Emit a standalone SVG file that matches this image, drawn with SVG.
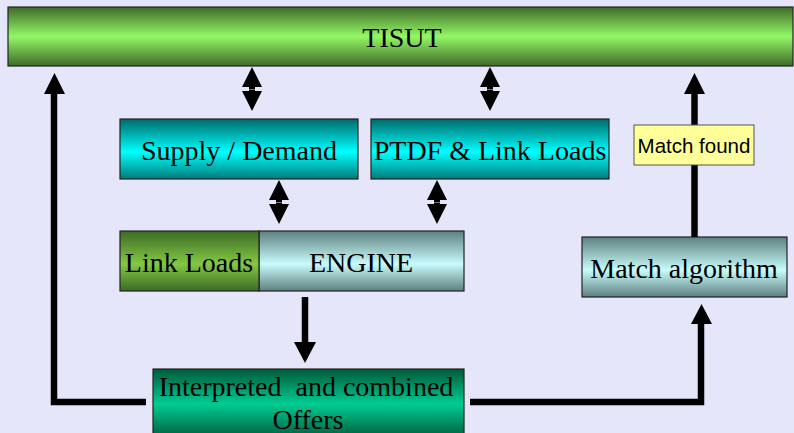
<svg xmlns="http://www.w3.org/2000/svg" width="794" height="433" viewBox="0 0 794 433">
  <defs>
    <linearGradient id="gTisut" x1="0" y1="0" x2="0" y2="1">
      <stop offset="0" stop-color="#3f6a2a"/>
      <stop offset="0.5" stop-color="#94f866"/>
      <stop offset="1" stop-color="#3f6a2a"/>
    </linearGradient>
    <linearGradient id="gCyan" x1="0" y1="0" x2="0" y2="1">
      <stop offset="0" stop-color="#006a6a"/>
      <stop offset="0.55" stop-color="#00ffff"/>
      <stop offset="1" stop-color="#007a7a"/>
    </linearGradient>
    <linearGradient id="gGrey" x1="0" y1="0" x2="0" y2="1">
      <stop offset="0" stop-color="#5f7f7f"/>
      <stop offset="0.55" stop-color="#c8fcfc"/>
      <stop offset="1" stop-color="#5f7f7f"/>
    </linearGradient>
    <linearGradient id="gLink" x1="0" y1="0" x2="0" y2="1">
      <stop offset="0" stop-color="#3c6a26"/>
      <stop offset="0.55" stop-color="#84c844"/>
      <stop offset="1" stop-color="#3c6a26"/>
    </linearGradient>
    <linearGradient id="gOffers" x1="0" y1="0" x2="0" y2="1">
      <stop offset="0" stop-color="#005a3a"/>
      <stop offset="0.5" stop-color="#00cc92"/>
      <stop offset="1" stop-color="#005a3a"/>
    </linearGradient>
    <!-- double-headed arrow glyph: up triangle over down triangle -->
    <g id="dbl">
      <path d="M0,0 L-10,20 L-3,20 L-3,22 L3,22 L3,20 L10,20 Z" fill="#000"/>
      <path d="M-3,22.5 L-3,24 L-10,24 L0,44 L10,24 L3,24 L3,22.5 Z" fill="#000"/>
    </g>
  </defs>
  <style>
    .box { stroke: #222; stroke-width: 1.2; }
    .lbl { font-family: "Liberation Serif", "Times New Roman", serif; font-size: 28px; fill: #000; text-anchor: middle; }
    .small { font-family: "Liberation Sans", Arial, sans-serif; font-size: 20.5px; fill: #000; text-anchor: middle; }
    .wire { fill: none; stroke: #000; stroke-width: 6.5; }
  </style>

  <rect width="794" height="433" fill="#e6e6fa"/>

  <g id="tisut">
    <rect class="box" x="8" y="7" width="785" height="59" fill="url(#gTisut)"/>
    <text class="lbl" x="402" y="47">TISUT</text>
  </g>

  <g id="supply-demand">
    <rect class="box" x="120" y="119" width="238" height="60" fill="url(#gCyan)"/>
    <text class="lbl" x="239" y="160">Supply / Demand</text>
  </g>

  <g id="ptdf">
    <rect class="box" x="371" y="119" width="238" height="60" fill="url(#gCyan)"/>
    <text class="lbl" x="490" y="160">PTDF &amp; Link Loads</text>
  </g>

  <g id="engine">
    <rect class="box" x="259" y="231" width="205" height="60" fill="url(#gGrey)"/>
    <text class="lbl" x="361" y="272">ENGINE</text>
  </g>

  <g id="link-loads">
    <rect class="box" x="120" y="231" width="139" height="60" fill="url(#gLink)"/>
    <text class="lbl" x="189" y="272">Link Loads</text>
  </g>

  <g id="match-algorithm">
    <rect class="box" x="582" y="237" width="205" height="60" fill="url(#gGrey)"/>
    <text class="lbl" x="684" y="278">Match algorithm</text>
  </g>

  <g id="offers">
    <rect class="box" x="153" y="369" width="311" height="70" fill="url(#gOffers)"/>
    <text class="lbl" x="306" y="396" xml:space="preserve">Interpreted  and combined</text>
    <text class="lbl" x="308" y="429">Offers</text>
  </g>

  <g id="connectors">
    <!-- TISUT <-> Supply/Demand, TISUT <-> PTDF -->
    <use href="#dbl" x="252" y="67"/>
    <use href="#dbl" x="490" y="67"/>
    <!-- Supply/Demand <-> engine, PTDF <-> engine -->
    <use href="#dbl" x="279" y="180"/>
    <use href="#dbl" x="437" y="180"/>
    <!-- engine -> offers -->
    <path class="wire" d="M305,297 V343"/>
    <path d="M294,342 L316,342 L305,363 Z" fill="#000"/>
    <!-- offers -> TISUT (left loop) -->
    <path class="wire" d="M146,402 H54 V92"/>
    <path d="M44,94 L65,94 L54.5,73 Z" fill="#000"/>
    <!-- offers -> match algorithm (right loop) -->
    <path class="wire" d="M470,402 H701 V322"/>
    <path d="M691,324 L712,324 L701.5,304 Z" fill="#000"/>
    <!-- match algorithm -> TISUT -->
    <path class="wire" d="M694.5,237 V92"/>
    <path d="M684,94 L705,94 L694.5,73 Z" fill="#000"/>
  </g>

  <g id="match-found">
    <rect x="634" y="125" width="120" height="40" fill="#ffff99" stroke="#555" stroke-width="1"/>
    <text class="small" x="694" y="153">Match found</text>
  </g>
</svg>
